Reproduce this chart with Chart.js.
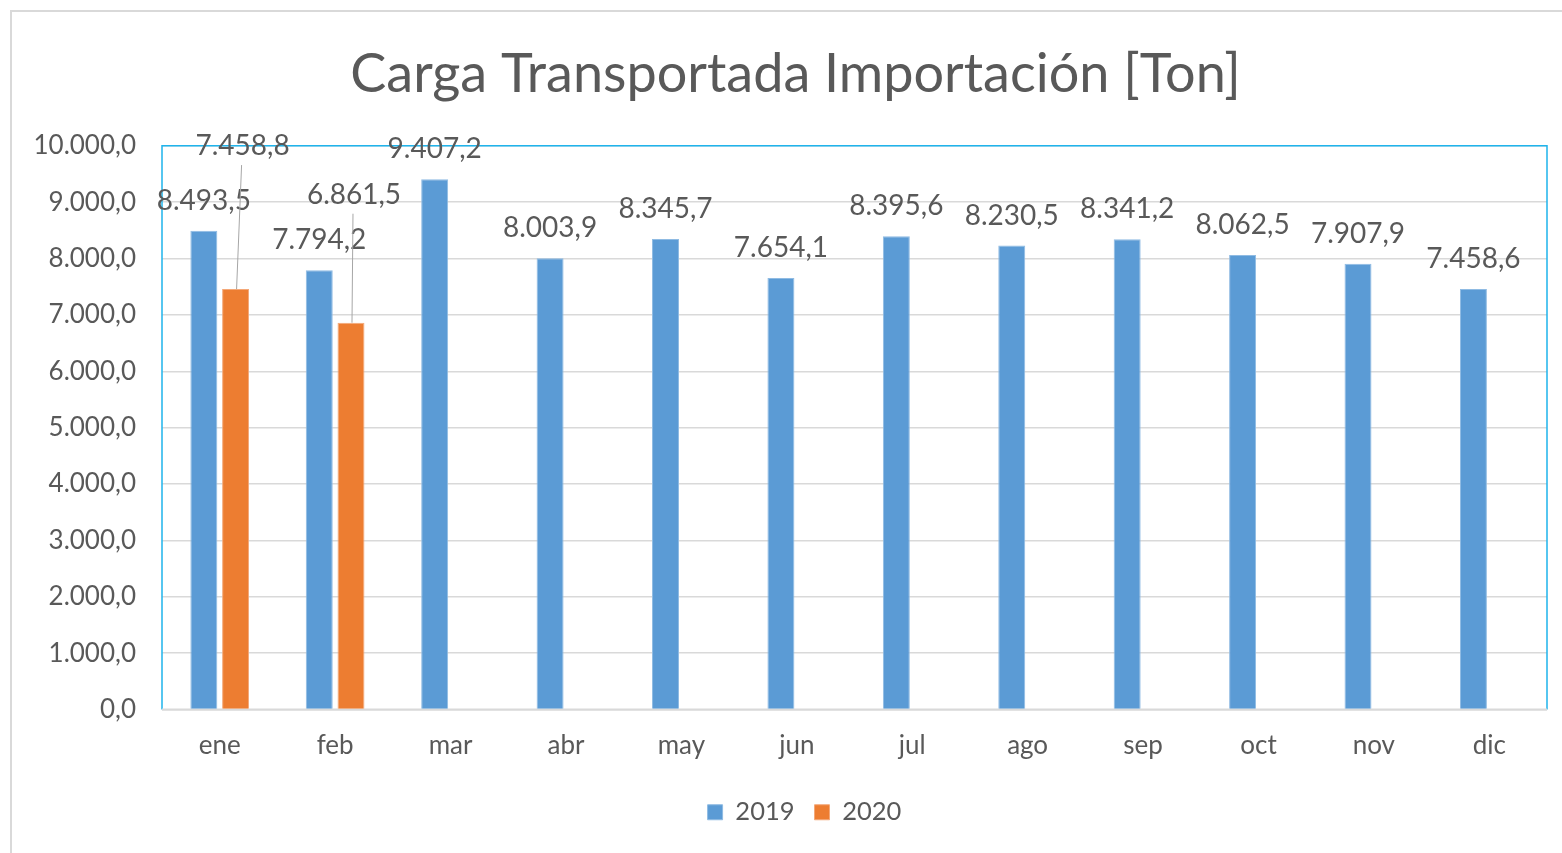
<!DOCTYPE html>
<html>
<head>
<meta charset="utf-8">
<script src="https://cdn.jsdelivr.net/npm/chart.js@4/dist/chart.umd.min.js"></script>
<style>
  html, body { margin: 0; padding: 0; background: #fff; }
  #wrap { position: relative; width: 1562px; height: 853px; }
  #frame { position: absolute; left: 10px; top: 10px; width: 1600px; height: 900px; border: 2px solid #d9d9d9; box-sizing: border-box; }
  canvas { position: absolute; left: 0; top: 0; }
</style>
</head>
<body>
<div id="wrap">
  <div id="frame"></div>
  <canvas id="cargaChart" width="1562" height="853"></canvas>
</div>
<script>
const meses = ["ene", "feb", "mar", "abr", "may", "jun", "jul", "ago", "sep", "oct", "nov", "dic"];
const carga2019 = [8493.5, 7794.2, 9407.2, 8003.9, 8345.7, 7654.1, 8395.6, 8230.5, 8341.2, 8062.5, 7907.9, 7458.6];
const carga2020 = [7458.8, 6861.5, null, null, null, null, null, null, null, null, null, null];
const yTicks = [0, 1000, 2000, 3000, 4000, 5000, 6000, 7000, 8000, 9000, 10000];

const gris = "#595959";
const fuente = "Lato, 'Open Sans', sans-serif";

// formato 10.000,0
function fmt(v) {
    let parts = v.toFixed(1).split(".");
    let ent = parts[0].replace(/\B(?=(\d{3})+(?!\d))/g, ".");
    return ent + "," + parts[1];
}

// etiquetas movidas a mano (ene y feb) con linea guia
const etiquetasMovidas = {
    "1-0": { dx: 7, dy: -143 },
    "1-1": { dx: 3, dy: -128 }
};

const etiquetas = {
    id: "etiquetas",
    afterDatasetsDraw(chart) {
        const ctx = chart.ctx;
        ctx.save();
        ctx.font = "28px " + fuente;
        ctx.fillStyle = gris;
        ctx.textAlign = "center";
        ctx.textBaseline = "middle";
        chart.data.datasets.forEach((ds, di) => {
            const meta = chart.getDatasetMeta(di);
            meta.data.forEach((bar, i) => {
                const v = ds.data[i];
                if (v === null || v === undefined) return;
                const mov = etiquetasMovidas[di + "-" + i];
                let x = bar.x, y = bar.y - 30;
                if (mov) {
                    x = bar.x + mov.dx;
                    y = bar.y + mov.dy;
                    ctx.strokeStyle = "#a6a6a6";
                    ctx.lineWidth = 1;
                    ctx.beginPath();
                    ctx.moveTo(x - 1, y + 19);
                    ctx.lineTo(bar.x + 1, bar.y);
                    ctx.stroke();
                }
                ctx.fillText(fmt(v), x, y);
            });
        });
        ctx.restore();
    }
};

const marco = {
    id: "marco",
    afterLayout(chart) {
        // titulo y leyenda un poco a la derecha, como en el original
        chart.titleBlock.left += 32;
        chart.legend.left += 50;
    },
    beforeDatasetsDraw(chart) {
        const a = chart.chartArea;
        const ctx = chart.ctx;
        ctx.save();
        ctx.strokeStyle = "#1fb4ec";
        ctx.lineWidth = 1.5;
        ctx.beginPath();
        ctx.moveTo(a.left, a.bottom);
        ctx.lineTo(a.left, a.top);
        ctx.lineTo(a.right, a.top);
        ctx.lineTo(a.right, a.bottom);
        ctx.stroke();
        ctx.strokeStyle = "#d9d9d9";
        ctx.lineWidth = 2;
        ctx.beginPath();
        ctx.moveTo(a.left, a.bottom);
        ctx.lineTo(a.right, a.bottom);
        ctx.stroke();
        ctx.restore();
    }
};

new Chart(document.getElementById("cargaChart"), {
    type: "bar",
    data: {
        labels: meses,
        datasets: [
            { label: "2019", data: carga2019, backgroundColor: "#5b9bd5", borderColor: "#8fbbe3", borderWidth: 1 },
            { label: "2020", data: carga2020, backgroundColor: "#ed7d31", borderColor: "#f4a878", borderWidth: 1 }
        ]
    },
    options: {
        responsive: false,
        animation: false,
        layout: { padding: { left: 12, right: 15, top: 0, bottom: 18 } },
        datasets: { bar: { categoryPercentage: 0.55, barPercentage: 0.85 } },
        plugins: {
            title: {
                display: true,
                text: "Carga Transportada Importación [Ton]",
                color: gris,
                font: { family: fuente, size: 54, weight: "normal" },
                padding: { top: 42, bottom: 39 }
            },
            legend: {
                position: "bottom",
                labels: {
                    color: gris,
                    font: { family: fuente, size: 25.5 },
                    boxWidth: 15,
                    boxHeight: 15,
                    padding: 20
                }
            },
            tooltip: { enabled: false }
        },
        scales: {
            x: {
                grid: { display: false, drawTicks: false },
                border: { display: false },
                ticks: { color: gris, font: { family: fuente, size: 26 }, padding: 21 },
                afterFit(scale) { scale.height = 70; }
            },
            y: {
                min: 0,
                max: 10000,
                afterBuildTicks(scale) { scale.ticks = yTicks.map(v => ({ value: v })); },
                grid: { color: "#d9d9d9", lineWidth: 1.5, drawTicks: false },
                border: { display: false },
                ticks: { color: gris, font: { family: fuente, size: 26 }, padding: 26, callback: v => fmt(v) },
                afterFit(scale) { scale.width = 150; }
            }
        }
    },
    plugins: [marco, etiquetas]
});
</script>
</body>
</html>
